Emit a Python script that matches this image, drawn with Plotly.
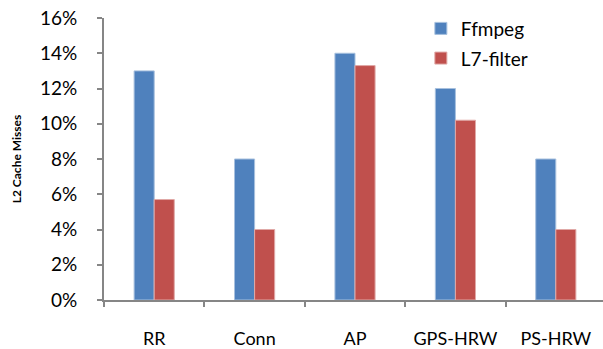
import plotly.graph_objects as go

categories = ["RR", "Conn", "AP", "GPS-HRW", "PS-HRW"]
ffmpeg = [13.0, 8.0, 14.0, 12.0, 8.0]
l7_filter = [5.7, 4.0, 13.3, 10.2, 4.0]

BLUE = "#4F81BD"
RED = "#C0504D"
AXIS = "#868686"
FONT = "Lato"

fig = go.Figure()
fig.add_trace(go.Bar(
    name="Ffmpeg", x=categories, y=ffmpeg, legendgroup="a",
    marker=dict(color=BLUE, line=dict(color="#A7C0DE", width=1)),
))
fig.add_trace(go.Bar(
    name="L7-filter", x=categories, y=l7_filter, legendgroup="b",
    marker=dict(color=RED, line=dict(color="#E0A9A7", width=1)),
))

fig.update_layout(
    width=603, height=349,
    margin=dict(l=104, r=0, t=18, b=49),
    paper_bgcolor="white", plot_bgcolor="white",
    barmode="group", bargap=0.6, bargroupgap=0,
    font=dict(family=FONT, size=17, color="#000000"),
    showlegend=True,
    legend=dict(
        x=0.635, y=1.03, xanchor="left", yanchor="top",
        bgcolor="rgba(0,0,0,0)", font=dict(size=19),
        tracegroupgap=2, itemwidth=30,
    ),
    xaxis=dict(
        range=[-0.5, 4.47],
        showline=True, linecolor=AXIS, linewidth=2,
        ticks="outside", tickson="boundaries", ticklen=5,
        tickcolor=AXIS, tickwidth=2,
        ticklabelstandoff=21,
        showgrid=False, zeroline=False,
        tickfont=dict(size=18),
    ),
    yaxis=dict(
        range=[0, 16], dtick=2, ticksuffix="%",
        showline=True, linecolor=AXIS, linewidth=2,
        ticks="outside", ticklen=5, tickcolor=AXIS, tickwidth=2,
        showgrid=False, zeroline=False,
        tickfont=dict(size=19),
        ticklabelstandoff=16,
        title=dict(text="<b>L2 Cache Misses</b>", font=dict(size=12), standoff=16),
    ),
)

fig.write_html("out.html")
